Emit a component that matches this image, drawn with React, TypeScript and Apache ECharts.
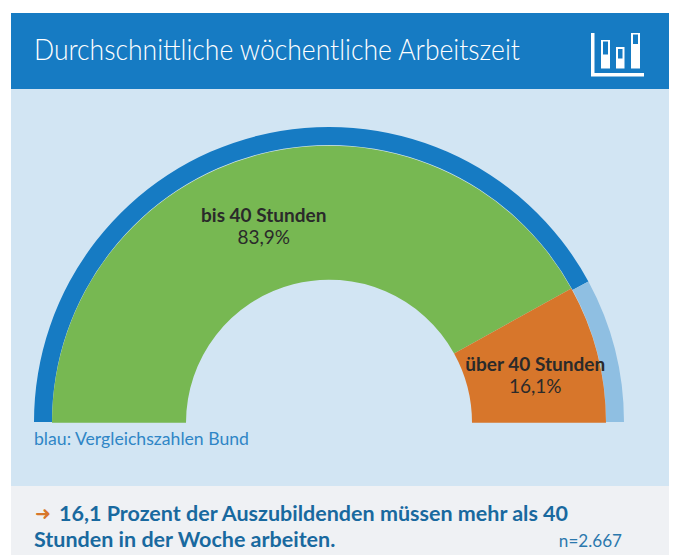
import React, { useEffect, useRef } from "react";
import * as echarts from "echarts";

const titleText = "Durchschnittliche wöchentliche Arbeitszeit";
const noteText = "blau: Vergleichszahlen Bund";
const arrowText = "➜";
const takeawayLines = ["16,1 Prozent der Auszubildenden müssen mehr als 40", "Stunden in der Woche arbeiten."];
const sampleText = "n=2.667";
const categories = ["bis 40 Stunden", "über 40 Stunden"];
const chartValues = [83.9, 16.1];
const comparisonValues = [84.2, 15.8];

const FONT = "Lato";
const BLUE = "#167bc3";
const DARKBLUE = "#19699f";

const rect = (x: number, y: number, w: number, h: number, fill: string) => ({
  type: "rect",
  shape: { x, y, width: w, height: h },
  style: { fill },
  silent: true,
});

export default function App() {
  const ref = useRef<HTMLDivElement>(null);
  useEffect(() => {
    const chart = echarts.init(ref.current!, null, { renderer: "svg" });
    chart.setOption({
      animation: false,
      backgroundColor: "#ffffff",
      graphic: [
        rect(11, 13, 658, 76, BLUE),
        rect(11, 89, 658, 397, "#d2e5f3"),
        rect(11, 486, 658, 69, "#eff1f4"),
        rect(591, 33, 3.5, 43, "#ffffff"),
        rect(591, 73, 53, 3.5, "#ffffff"),
        rect(601, 40, 9, 28.5, "#ffffff"),
        rect(603, 41.5, 5, 13, BLUE),
        rect(616, 47, 8.5, 21.5, "#ffffff"),
        rect(618, 49, 4.5, 9.5, BLUE),
        rect(631, 33, 9, 35.5, "#ffffff"),
        rect(633, 34.5, 5, 9.5, BLUE),
        {
          type: "text",
          x: 34,
          y: 49,
          scaleX: 0.915,
          style: { text: titleText, fill: "#ffffff", font: `300 29px ${FONT}`, verticalAlign: "middle" },
        },
        {
          type: "text",
          x: 34,
          y: 438,
          scaleX: 0.98,
          style: { text: noteText, fill: "#2f86c6", font: `18px ${FONT}`, verticalAlign: "middle" },
        },
        {
          type: "text",
          x: 35,
          y: 513,
          style: { text: arrowText, fill: "#d7762b", font: `bold 19px "DejaVu Sans"`, verticalAlign: "middle" },
        },
        {
          type: "text",
          x: 59,
          y: 513,
          style: { text: takeawayLines[0], fill: DARKBLUE, font: `bold 21.5px ${FONT}`, verticalAlign: "middle" },
        },
        {
          type: "text",
          x: 34,
          y: 539,
          style: { text: takeawayLines[1], fill: DARKBLUE, font: `bold 21.5px ${FONT}`, verticalAlign: "middle" },
        },
        {
          type: "text",
          x: 622,
          y: 540,
          scaleX: 0.95,
          style: { text: sampleText, fill: "#2b78ad", font: `18px ${FONT}`, align: "right", verticalAlign: "middle" },
        },
      ],
      series: [
        {
          type: "pie",
          center: [329, 422],
          radius: [277, 295],
          startAngle: 180,
          endAngle: 0,
          clockwise: true,
          silent: true,
          label: { show: false },
          labelLine: { show: false },
          data: [
            { name: "Bund " + categories[0], value: comparisonValues[0], itemStyle: { color: BLUE } },
            { name: "Bund " + categories[1], value: comparisonValues[1], itemStyle: { color: "#8fbfe2" } },
          ],
        },
        {
          type: "pie",
          center: [329, 422.7],
          radius: [143, 277],
          startAngle: 180,
          endAngle: 0,
          clockwise: true,
          silent: true,
          labelLine: { show: false },
          label: {
            show: true,
            position: "inside",
            formatter: (p: any) => `{a|${p.name}}\n{b|${String(p.value).replace(".", ",")}%}`,
            rich: {
              a: { fontFamily: FONT, fontWeight: "bold", fontSize: 19, color: "#2a2a2a", lineHeight: 22.5, align: "center" },
              b: { fontFamily: FONT, fontWeight: "normal", fontSize: 19, color: "#2a2a2a", lineHeight: 22.5, align: "center" },
            },
          },
          data: [
            {
              name: categories[0],
              value: chartValues[0],
              itemStyle: { color: "#77b852" },
              label: { offset: [-12, 9] },
            },
            {
              name: categories[1],
              value: chartValues[1],
              itemStyle: { color: "#d7762b" },
              label: { offset: [0, 5] },
            },
          ],
        },
      ],
    });
    return () => chart.dispose();
  }, []);
  return <div ref={ref} style={{ position: "fixed", left: 0, top: 0, width: 673, height: 555 }} />;
}
